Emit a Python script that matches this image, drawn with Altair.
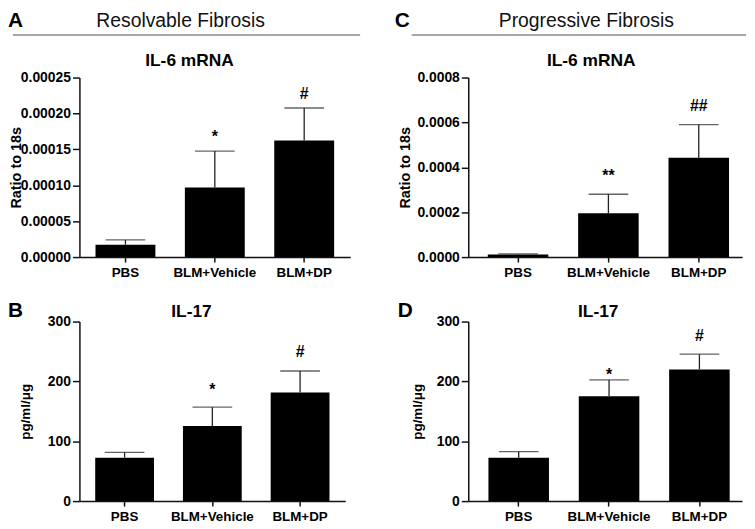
import altair as alt
import pandas as pd

groups = ["PBS", "BLM+Vehicle", "BLM+DP"]

# Panel A: Resolvable fibrosis, IL-6 mRNA (ratio to 18s)
a_mean = [0.0000171, 0.0000969, 0.0001624]
a_upper = [0.0000240, 0.0001476, 0.0002076]
a_sig = ["", "*", "#"]
a_sig_y = [None, 0.000160, 0.000220]

# Panel C: Progressive fibrosis, IL-6 mRNA (ratio to 18s)
c_mean = [0.0000110, 0.000195, 0.000443]
c_upper = [0.0000140, 0.000280, 0.000590]
c_sig = ["", "**", "##"]
c_sig_y = [None, 0.000337, 0.000652]

# Panel B: Resolvable fibrosis, IL-17 (pg/ml/ug)
b_mean = [72.6, 125.5, 181.6]
b_upper = [81.5, 156.9, 217.4]
b_sig = ["", "*", "#"]
b_sig_y = [None, 177.8, 241.0]

# Panel D: Progressive fibrosis, IL-17 (pg/ml/ug)
d_mean = [72.6, 175.0, 220.1]
d_upper = [82.6, 202.5, 245.5]
d_sig = ["", "*", "#"]
d_sig_y = [None, 202.5, 267.0]

a_ticks = [0, 0.00005, 0.0001, 0.00015, 0.0002, 0.00025]
c_ticks = [0, 0.0002, 0.0004, 0.0006, 0.0008]
il17_ticks = [0, 100, 200, 300]

FONT = "Liberation Sans"


def deco_text(text, x, y, size, weight="bold", align="left", baseline="alphabetic", color="black"):
    return alt.Chart(pd.DataFrame({"t": [text]})).mark_text(
        font=FONT, fontSize=size, fontWeight=weight, align=align,
        baseline=baseline, color=color
    ).encode(x=alt.value(x), y=alt.value(y), text="t:N")


def panel(mean, upper, sig, sig_y, ymax, ticks, fmt, ytitle, width, height,
          title_txt, title_x, title_y, letter, letter_x, letter_y, ytitle_x,
          header=None, x_align=0.5, pad_outer=0.18, ytitle_size=14.5):
    df = pd.DataFrame({"g": groups, "m": mean, "u": upper, "s": sig, "sy": sig_y})
    xscale = alt.Scale(paddingInner=0.33, paddingOuter=pad_outer, align=x_align)
    xaxis = alt.Axis(title=None, labelAngle=0, tickSize=5, labelPadding=4,
                     labelFontSize=13.5, labelOverlap=False)
    xenc = alt.X("g:N", sort=groups, scale=xscale, axis=xaxis)
    yscale = alt.Scale(domain=[0, ymax], nice=False, zero=True)
    yaxis = alt.Axis(values=ticks, format=fmt, title=ytitle, tickSize=7,
                     labelPadding=2, titleX=ytitle_x, titleY=height / 2,
                     titleBaseline="middle", titleAngle=270,
                     labelOverlap=False, titleFontSize=ytitle_size)
    base = alt.Chart(df)
    bars = base.mark_bar(color="black").encode(
        x=xenc, y=alt.Y("m:Q", scale=yscale, axis=yaxis))
    err = base.mark_rule(color="#222", strokeWidth=1.3).encode(
        x=xenc, y=alt.Y("m:Q", scale=yscale, axis=yaxis), y2="u:Q")
    cap = base.mark_tick(color="#222", thickness=1.3, size=40).encode(
        x=xenc, y=alt.Y("u:Q", scale=yscale, axis=yaxis))
    stars = base.transform_filter("datum.s != ''").mark_text(
        font=FONT, fontSize=16, fontWeight="bold", baseline="alphabetic", color="black"
    ).encode(x=xenc, y=alt.Y("sy:Q", scale=yscale, axis=yaxis), text="s:N")
    layers = [bars, err, cap, stars,
              deco_text(title_txt, title_x, title_y, 17.5, align="center"),
              deco_text(letter, letter_x, letter_y, 21)]
    if header is not None:
        htxt, hx, hy, lx1, lx2, ly = header
        layers.append(deco_text(htxt, hx, hy, 19.5, weight="normal", align="center",
                                baseline="middle", color="#111"))
        layers.append(alt.Chart(pd.DataFrame({"a": [0]})).mark_rule(
            color="#8a8a8a", strokeWidth=1.5).encode(
            x=alt.value(lx1), x2=alt.value(lx2), y=alt.value(ly)))
    return alt.layer(*layers).properties(width=width, height=height)


pA = panel(a_mean, a_upper, a_sig, a_sig_y, 0.00025, a_ticks, ".5f", "Ratio to 18s",
           273, 181, "IL-6 mRNA", 111, -12, "A", -72, -51, -63,
           header=("Resolvable Fibrosis", 102, -57, -67, 283, -43))
pC = panel(c_mean, c_upper, c_sig, c_sig_y, 0.0008, c_ticks, ".4f", "Ratio to 18s",
           276, 181, "IL-6 mRNA", 124, -12, "C", -74, -51, -63,
           header=("Progressive Fibrosis", 119, -57, -57, 280, -43), x_align=0.6)
pB = panel(b_mean, b_upper, b_sig, b_sig_y, 300, il17_ticks, "d", "pg/ml/μg",
           268, 181, "IL-17", 113, -5, "B", -72, -5, -54, ytitle_size=13.5)
pD = panel(d_mean, d_upper, d_sig, d_sig_y, 300, il17_ticks, "d", "pg/ml/μg",
           276, 181, "IL-17", 131, -5, "D", -71, -5, -51, x_align=0.62, ytitle_size=13.5)

chart = alt.concat(pA, pC, pB, pD, columns=2,
                   spacing=alt.RowColnumber(row=65, column=119),
                   bounds="flush").properties(padding=0).configure_view(
    stroke=None
).configure_axis(
    grid=False, domainColor="#111", tickColor="#111", domainWidth=1.5, tickWidth=1.5,
    labelColor="black", labelFont=FONT, labelFontWeight="bold", labelFontSize=14,
    titleFont=FONT, titleFontWeight="bold", titleFontSize=14, titleColor="black"
)

chart.save("out.html", embed_options={"renderer": "svg", "actions": False})
